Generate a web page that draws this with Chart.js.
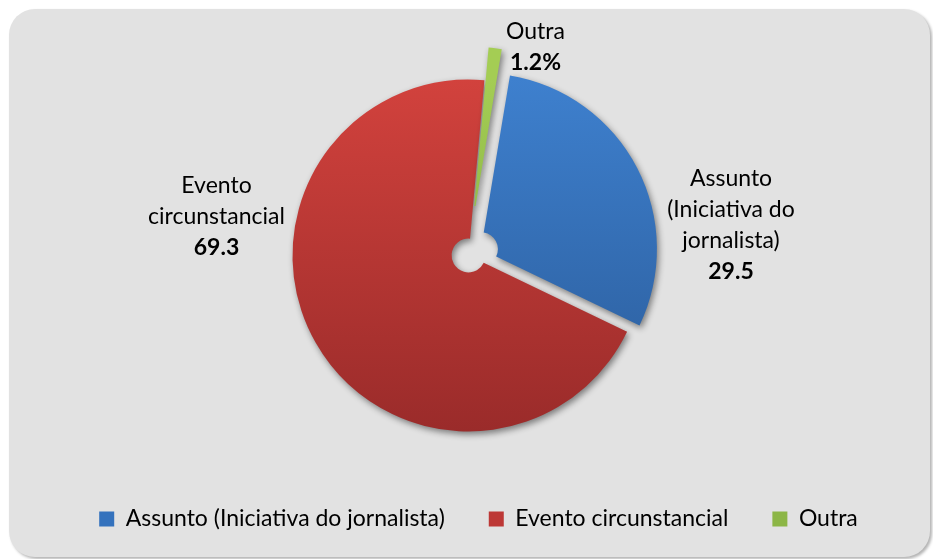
<!DOCTYPE html>
<html>
<head>
<meta charset="utf-8">
<script src="https://cdn.jsdelivr.net/npm/chart.js@4.4.1/dist/chart.umd.min.js"></script>
<style>
  html, body { margin: 0; padding: 0; background: #fff; }
  #wrap { position: relative; width: 933px; height: 559px; overflow: hidden; }
  #panel {
    position: absolute; left: 9px; top: 9px; width: 921px; height: 548px;
    background: #e2e2e2; border-radius: 26px;
    box-shadow: 2px 2px 3px rgba(0, 0, 0, 0.3);
  }
  #chart { position: absolute; left: 0; top: 0; }
</style>
</head>
<body>
<div id="wrap">
  <div id="panel"></div>
  <canvas id="chart" width="933" height="559"></canvas>
</div>
<script>
// Pie: origin of the story (share of items, %)

const categories = ['Assunto (Iniciativa do jornalista)', 'Evento circunstancial', 'Outra'];
const shares = [29.5, 69.3, 1.2];
const labelLines = [['Assunto', '(Iniciativa do', 'jornalista)'], ['Evento', 'circunstancial'], ['Outra']];
const valueSuffix = ['', '', '%'];

const topColors = ['#3e80ce', '#d2423d', '#a4cd54'];
const bottomColors = ['#2a5b99', '#9a2b2a', '#74a03a'];
const legendColors = ['#3472bd', '#bd3836', '#8cb646'];

const FONT = 'Lato';
const FONT_SIZE = 23;

// pulls slices out from the centre along their mid angle (px)
const explodePlugin = {
  id: 'explode',
  afterDatasetsUpdate(chart, args, opts) {
    const meta = chart.getDatasetMeta(0);
    meta.data.forEach((arc, i) => {
      const d = opts.distance[i] || 0;
      const mid = (arc.startAngle + arc.endAngle) / 2;
      arc.x += Math.cos(mid) * d;
      arc.y += Math.sin(mid) * d;
    });
  }
};

// legend sits a little right of the pie centre in the original
const legendShift = {
  id: 'legendShift',
  afterLayout(chart, args, opts) {
    if (!chart.legend) return;
    chart.legend.left += opts.dx;
    chart.legend.right += opts.dx;
  }
};

const shadowPlugin = {
  id: 'sliceShadow',
  beforeDatasetsDraw(chart) {
    const ctx = chart.ctx;
    ctx.save();
    ctx.shadowColor = 'rgba(0, 0, 0, 0.45)';
    ctx.shadowBlur = 6;
    ctx.shadowOffsetX = 2;
    ctx.shadowOffsetY = 3;
  },
  afterDatasetsDraw(chart) {
    chart.ctx.restore();
  }
};

const labelPlugin = {
  id: 'sliceLabels',
  afterDraw(chart, args, opts) {
    const ctx = chart.ctx;
    const area = chart.chartArea;
    const cx = (area.left + area.right) / 2;
    const cy = (area.top + area.bottom) / 2;
    ctx.save();
    ctx.fillStyle = '#000';
    ctx.textAlign = 'center';
    ctx.textBaseline = 'middle';
    shares.forEach((v, i) => {
      const lines = labelLines[i];
      const n = lines.length + 1;
      const [dx, dy] = opts.offsets[i];
      let y = cy + dy - (n - 1) / 2 * opts.lineHeight;
      ctx.font = FONT_SIZE + 'px ' + FONT;
      lines.forEach(t => {
        ctx.fillText(t, cx + dx, y);
        y += opts.lineHeight;
      });
      ctx.font = 'bold ' + FONT_SIZE + 'px ' + FONT;
      ctx.fillText(v.toFixed(1) + valueSuffix[i], cx + dx, y);
    });
    ctx.restore();
  }
};

function sliceFill(c) {
  const i = c.dataIndex;
  const area = c.chart.chartArea;
  if (!area) return legendColors[i];
  const cy = (area.top + area.bottom) / 2;
  const g = c.chart.ctx.createLinearGradient(0, cy - 177, 0, cy + 177);
  g.addColorStop(0, topColors[i]);
  g.addColorStop(1, bottomColors[i]);
  return g;
}

new Chart(document.getElementById('chart'), {
  type: 'doughnut',
  data: {
    labels: categories,
    datasets: [{
      data: shares,
      backgroundColor: sliceFill,
      borderWidth: 0
    }]
  },
  options: {
    responsive: false,
    animation: false,
    rotation: 9.5,
    radius: 176,
    cutout: '9.6%',
    layout: { padding: { top: 47.5, bottom: 18.5, left: 4, right: 0 } },
    plugins: {
      tooltip: { enabled: false },
      legend: {
        position: 'bottom',
        labels: {
          boxWidth: 15,
          boxHeight: 15,
          padding: 44,
          color: '#000',
          font: { family: FONT, size: FONT_SIZE },
          generateLabels: () => categories.map((t, i) => ({
            text: t,
            fillStyle: legendColors[i],
            strokeStyle: legendColors[i],
            lineWidth: 0,
            hidden: false,
            index: i
          }))
        }
      },
      legendShift: { dx: 10 },
      explode: { distance: [14, 0, 33] },
      sliceLabels: {
        lineHeight: 31,
        offsets: [[262.5, -30.5], [-252, -39], [67, -208]]
      }
    }
  },
  plugins: [explodePlugin, legendShift, shadowPlugin, labelPlugin]
});
</script>
</body>
</html>
